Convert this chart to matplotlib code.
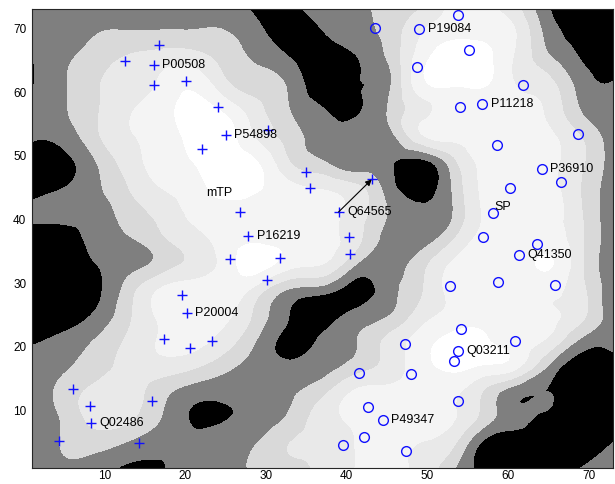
import numpy as np
import matplotlib
matplotlib.use("Agg")
import matplotlib.pyplot as plt
import matplotlib.tri as mtri

plt.rcParams['font.family'] = ['Liberation Sans', 'DejaVu Sans']

# background map, read on a 4-unit grid (x = 1..73, y = 73 down to 1)
grid_x = np.arange(1, 74, 4)
grid_y = np.arange(73, 0, -4)
field = [
    [1.2, 1.3, 1.5, 1.6, 1.65, 1.65, 1.55, 0.8, 0.8, 1.3, 1.5, 2.5, 3.0, 4.2, 4.2, 3.3, 1.1, 0.3, 0.2],
    [1.1, 1.3, 2.0, 2.15, 2.2, 2.2, 2.1, 1.3, 0.5, 0.9, 1.5, 2.3, 3.9, 4.8, 4.8, 4.0, 1.6, 0.7, 0.2],
    [0.95, 1.8, 2.6, 3.2, 3.6, 3.6, 2.6, 1.9, 1.1, 0.4, 0.9, 2.0, 4.5, 5.5, 5.3, 3.8, 2.3, 1.0, 0.4],
    [0.95, 1.9, 2.9, 3.5, 4.2, 4.8, 3.3, 2.5, 1.8, 0.4, 0.9, 1.7, 4.5, 5.05, 5.05, 4.0, 3.4, 1.6, 1.1],
    [1.2, 1.9, 2.9, 3.9, 4.6, 5.4, 4.8, 3.3, 2.0, 1.1, 0.85, 2.0, 3.6, 4.4, 4.3, 4.2, 3.8, 2.0, 1.3],
    [1.1, 1.4, 2.8, 3.9, 4.4, 5.4, 5.5, 3.8, 2.5, 1.5, 1.3, 1.5, 3.7, 4.3, 4.4, 4.4, 4.2, 3.0, 1.4],
    [0.4, 0.7, 2.0, 3.5, 4.4, 5.0, 5.5, 5.0, 3.0, 2.1, 1.3, 1.2, 0.6, 2.5, 4.2, 4.3, 4.2, 3.2, 1.5],
    [0.4, 1.0, 1.8, 3.0, 4.0, 4.6, 5.4, 5.1, 4.3, 3.9, 3.3, 1.6, 0.45, 2.0, 4.2, 4.4, 4.3, 3.0, 1.4],
    [1.27, 1.4, 1.5, 2.5, 3.3, 4.2, 4.5, 4.4, 4.4, 4.3, 3.6, 2.0, 1.1, 1.9, 4.1, 4.4, 4.4, 3.1, 1.3],
    [0.3, 0.4, 1.4, 1.9, 2.8, 3.6, 4.4, 4.7, 4.6, 4.3, 3.4, 1.6, 1.4, 2.8, 4.3, 4.4, 4.5, 3.2, 1.3],
    [0.3, 0.3, 1.0, 1.6, 2.4, 3.3, 4.4, 5.5, 4.4, 4.0, 2.1, 1.4, 2.5, 4.1, 4.4, 4.4, 5.1, 3.2, 1.3],
    [0.3, 0.3, 0.8, 2.5, 4.1, 4.4, 4.5, 3.5, 1.9, 1.5, 0.6, 1.5, 2.8, 4.3, 4.4, 4.4, 4.3, 3.3, 1.3],
    [0.3, 0.4, 1.2, 2.8, 4.2, 4.5, 4.2, 2.6, 0.95, 0.5, 1.3, 1.9, 3.4, 4.3, 4.6, 4.4, 4.2, 3.3, 1.3],
    [0.9, 1.3, 2.1, 3.2, 4.1, 4.3, 3.5, 1.9, 0.7, 1.15, 1.9, 3.2, 4.4, 5.4, 5.2, 4.4, 3.8, 1.8, 1.5],
    [1.2, 1.8, 2.6, 3.3, 3.6, 3.2, 2.3, 1.5, 1.2, 1.5, 2.4, 3.3, 4.5, 5.3, 4.9, 4.3, 1.9, 0.4, 0.3],
    [1.2, 2.4, 3.3, 3.4, 2.4, 1.5, 1.3, 1.4, 1.8, 2.7, 4.1, 4.3, 4.4, 4.2, 2.9, 1.4, 1.0, 0.3, 0.3],
    [1.2, 2.2, 3.4, 3.2, 2.0, 0.9, 0.95, 1.3, 2.2, 3.5, 4.2, 4.4, 4.3, 4.1, 2.6, 1.3, 0.9, 0.3, 0.3],
    [1.2, 2.1, 2.4, 1.9, 1.3, 1.2, 1.4, 2.0, 3.0, 3.4, 4.0, 4.2, 4.0, 3.3, 0.8, 0.3, 0.3, 0.5, 1.0],
    [1.2, 1.8, 1.5, 0.8, 0.95, 1.3, 1.6, 2.2, 2.6, 3.3, 4.0, 4.1, 3.8, 2.2, 0.6, 0.3, 0.3, 1.0, 1.5],
]
levels = [-1, 1, 2, 3, 4, 5, 7]
shades = ['#000000', '#7f7f7f', '#d9d9d9', '#e9e9e9', '#f4f4f4', '#ffffff']

# mTP sequences (+)
mtp_x = [16.8, 12.5, 16.1, 16.1, 20.1, 24.1, 25.0, 30.3, 22.1, 35.0, 35.4, 26.8, 43.1,
         39.0, 27.8, 40.3, 40.4, 25.6, 31.7, 30.1, 19.6, 20.2, 17.3, 20.6, 23.3,
         6.1, 8.2, 8.3, 15.9, 4.4, 14.3]
mtp_y = [67.4, 64.9, 64.3, 61.1, 61.8, 57.6, 53.3, 54.0, 51.0, 47.5, 44.9, 41.2, 46.3,
         41.2, 37.4, 37.2, 34.6, 33.8, 34.0, 30.5, 28.2, 25.4, 21.2, 19.9, 21.0,
         13.4, 10.7, 8.1, 11.5, 5.2, 5.0]

# SP sequences (o)
sp_x = [43.5, 53.8, 49.0, 55.1, 48.7, 61.9, 54.0, 56.8, 68.7, 58.6, 64.2, 66.6, 60.3,
        58.1, 56.9, 63.6, 61.3, 52.8, 58.8, 65.8, 54.2, 60.8, 47.2, 53.8, 53.3,
        41.5, 48.0, 42.7, 53.8, 44.5, 42.2, 39.5, 47.3]
sp_y = [70.1, 72.1, 69.9, 66.6, 64.0, 61.1, 57.7, 58.2, 53.5, 51.7, 47.9, 45.9, 44.9,
        41.1, 37.2, 36.1, 34.4, 29.5, 30.2, 29.8, 22.9, 21.0, 20.5, 19.3, 17.8,
        15.9, 15.7, 10.6, 11.5, 8.5, 5.8, 4.6, 3.7]

# labelled sequences: name, x, y
names = ['P00508', 'P54898', 'Q64565', 'P16219', 'P20004', 'Q02486',
         'P19084', 'P11218', 'P36910', 'Q41350', 'Q03211', 'P49347']
name_x = [16.1, 25.0, 39.0, 27.8, 20.2, 8.3, 49.0, 56.8, 64.2, 61.3, 53.8, 44.5]
name_y = [64.3, 53.3, 41.2, 37.4, 25.4, 8.1, 69.9, 58.2, 47.9, 34.4, 19.3, 8.5]

fig = plt.figure(figsize=(6.15, 4.84), dpi=100)
ax = fig.add_axes([0.052, 0.033, 0.9447, 0.9477])

gx, gy = np.meshgrid(grid_x, grid_y)
tri = mtri.Triangulation(gx.ravel(), gy.ravel())
tri_f, z_f = mtri.UniformTriRefiner(tri).refine_field(np.array(field).ravel(), subdiv=3)
ax.tricontourf(tri_f, z_f, levels=levels, colors=shades)

ax.plot(mtp_x, mtp_y, '+', color='#1010ff', ms=6.5, mew=1.0)
ax.plot(sp_x, sp_y, 'o', color='#1010ff', mfc='none', ms=7, mew=1.0)

for n, x, y in zip(names, name_x, name_y):
    ax.annotate(n, (x, y), xytext=(6, 0), textcoords='offset points',
                ha='left', va='center', fontsize=9)
ax.text(22.6, 44.2, 'mTP', ha='left', va='center', fontsize=9)
ax.text(58.3, 41.9, 'SP', ha='left', va='center', fontsize=9)

ax.annotate('', xy=(43.1, 46.3), xytext=(39.0, 41.2),
            arrowprops=dict(arrowstyle='-|>', color='k', lw=0.8, mutation_scale=9,
                            shrinkA=0, shrinkB=0))

ax.set_xlim(1, 73)
ax.set_ylim(1, 73)
ax.set_xticks(range(10, 71, 10))
ax.set_yticks(range(10, 71, 10))
ax.tick_params(length=0, labelsize=8.5)
ax.tick_params(axis='x', pad=1.5)
ax.tick_params(axis='y', pad=4)
for s in ax.spines.values():
    s.set_color('#262626')
    s.set_linewidth(0.8)

fig.savefig('out.png', dpi=100)
